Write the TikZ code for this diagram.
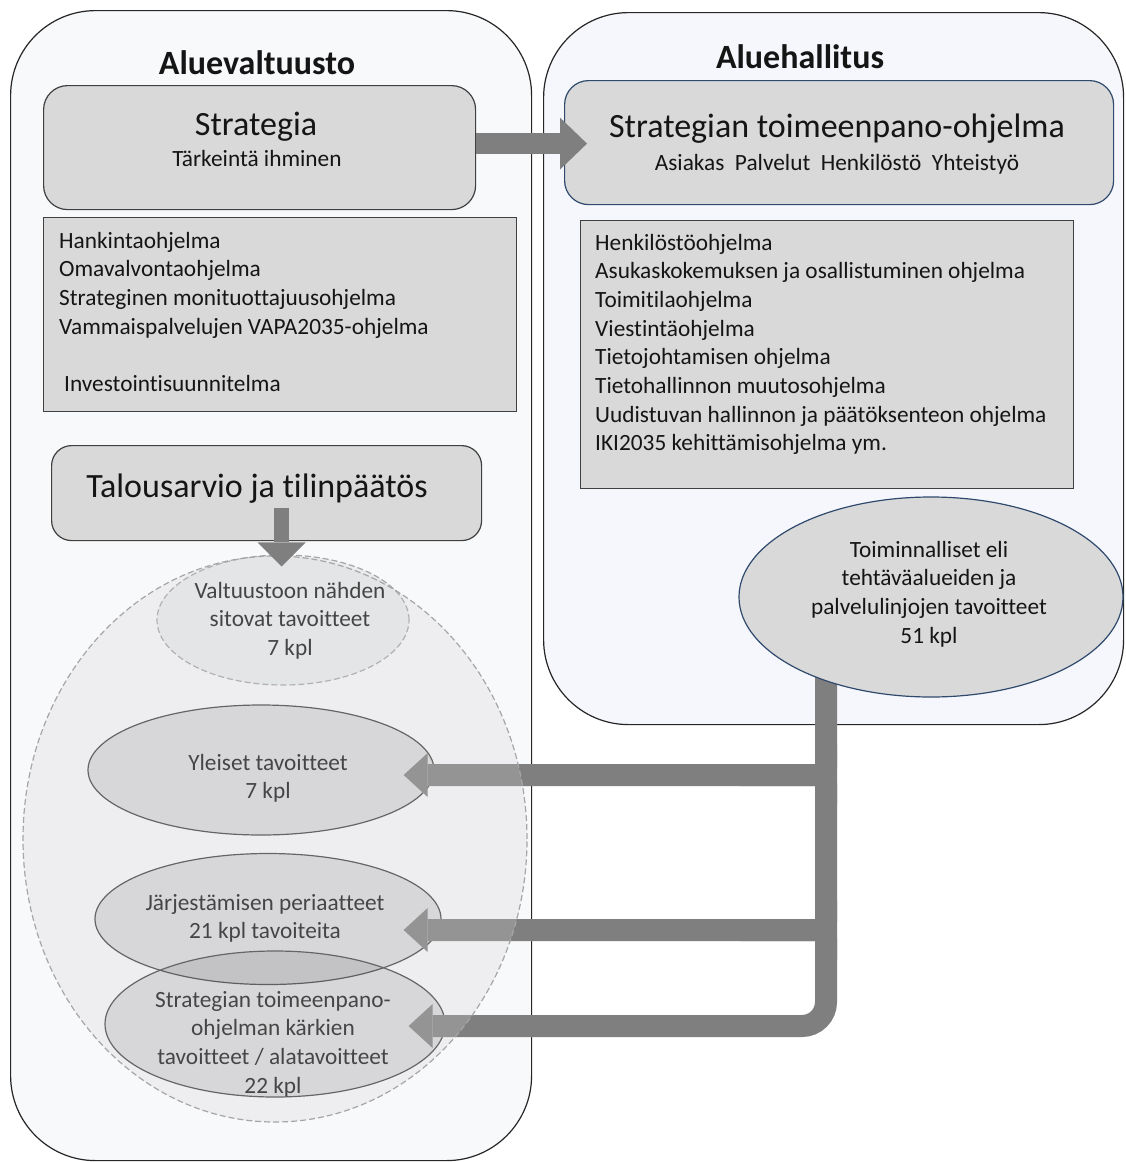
\documentclass[tikz,border=0pt]{standalone}
\usepackage{fontspec}
\setmainfont{Carlito}[Ligatures=NoCommon]
\usetikzlibrary{shapes.geometric,arrows.meta}
\definecolor{panelL}{HTML}{F8F9FB}
\definecolor{panelR}{HTML}{F5F7FC}
\definecolor{boxgray}{HTML}{D9D9D9}
\definecolor{boxline}{HTML}{404040}
\definecolor{navy}{HTML}{2F4A6D}
\definecolor{conngray}{HTML}{7F7F7F}
\definecolor{dashgray}{HTML}{A6A6A6}
\definecolor{veil}{HTML}{D2D2D2}
\definecolor{inkc}{HTML}{151515}
\newcommand{\bigtxt}{\fontsize{34}{40}\selectfont}
\newcommand{\smalltxt}{\fontsize{23.3}{28.7}\selectfont}
\newcommand{\stack}[2]{\begin{tabular}[t]{@{}#1@{}}#2\end{tabular}}
\begin{document}
\begin{tikzpicture}[x=1pt,y=-1pt,
  panel/.style={draw=black!85, line width=1.2pt, rounded corners=85pt, inner sep=0pt, anchor=north west},
  gbox/.style={draw=boxline, fill=boxgray, line width=1.2pt, inner sep=0pt, anchor=north west},
  oval/.style={ellipse, draw=boxline, line width=1.2pt, fill=black, fill opacity=0.12, draw opacity=1, inner sep=0pt},
  dashoval/.style={ellipse, draw=dashgray, line width=1.2pt, dash pattern=on 6pt off 3pt, inner sep=0pt},
  txt/.style={inner sep=0pt, text=inkc},
  conn/.style={draw=conngray, line width=22pt, -{Triangle[width=44pt,length=24pt,line width=0pt]}},
  connplain/.style={draw=conngray, line width=22pt},
  fatarrow/.style={draw=conngray, line width=21pt, -{Triangle[width=52pt,length=27pt,line width=0pt]}},
  downarrow/.style={draw=conngray, line width=15pt, -{Triangle[width=48pt,length=24pt,line width=0pt]}}
]
\useasboundingbox (0,0) rectangle (1125,1162);
\fill[white] (0,0) rectangle (1125,1162);

% panels
\node[panel, fill=panelL, minimum width=521pt, minimum height=1150pt] (lp) at (10,10) {};
\node[panel, fill=panelR, minimum width=580pt, minimum height=712pt] (rp) at (543,12) {};

\node[txt, anchor=base, font=\bigtxt\bfseries] (lhead) at (257,74) {Aluevaltuusto};
\node[txt, anchor=base, font=\bigtxt\bfseries] (rhead) at (800,68) {Aluehallitus};

% left boxes
\node[gbox, rounded corners=24pt, minimum width=432pt, minimum height=124pt] (strat) at (43,85) {};
\node[txt, anchor=base, font=\bigtxt] (strattitle) at (256,135) {Strategia};
\node[txt, anchor=base, font=\smalltxt] (stratsub) at (257,166) {Tärkeintä ihminen};

\node[gbox, minimum width=473pt, minimum height=194pt] (lbox) at (43,217) {};
\node[txt, anchor=base west, font=\smalltxt] (llist) at (59,248) {\stack{l}{Hankintaohjelma\\Omavalvontaohjelma\\Strateginen monituottajuusohjelma\\Vammaispalvelujen VAPA2035-ohjelma\\ \\\hspace{5pt}Investointisuunnitelma}};

\node[gbox, rounded corners=20pt, minimum width=430pt, minimum height=95pt] (tal) at (51,445) {};
\node[txt, anchor=base, font=\bigtxt] (taltext) at (257,497) {Talousarvio ja tilinpäätös};

% right boxes
\node[gbox, draw=navy, rounded corners=24pt, minimum width=549pt, minimum height=124pt] (impl) at (564,80) {};
\node[txt, anchor=base, font=\bigtxt] (impltitle) at (837,137) {Strategian toimeenpano-ohjelma};
\node[txt, anchor=base, font=\smalltxt] (implsub) at (837,170) {Asiakas\ \ Palvelut\ \ Henkilöstö\ \ Yhteistyö};

\node[gbox, minimum width=493pt, minimum height=268pt] (rbox) at (580,220) {};
\node[txt, anchor=base west, font=\smalltxt] (rlist) at (595,250) {\stack{l}{Henkilöstöohjelma\\Asukaskokemuksen ja osallistuminen ohjelma\\Toimitilaohjelma\\Viestintäohjelma\\Tietojohtamisen ohjelma\\Tietohallinnon muutosohjelma\\Uudistuvan hallinnon ja päätöksenteon ohjelma\\IKI2035 kehittämisohjelma ym.}};

% left ovals
\node[dashoval, fill=black, fill opacity=0.05, draw opacity=1, minimum width=252pt, minimum height=130pt] (sit) at (283,620) {};
\node[txt, anchor=base, font=\smalltxt] (sittext) at (290,598) {\stack{c}{Valtuustoon nähden\\sitovat tavoitteet\\7 kpl}};

\node[oval, minimum width=346pt, minimum height=130pt] (yl) at (261,770) {};
\node[txt, anchor=base, font=\smalltxt] (yltext) at (268,770) {\stack{c}{Yleiset tavoitteet\\7 kpl}};

\node[oval, minimum width=346pt, minimum height=131pt] (jr) at (268,919) {};
\node[txt, anchor=base, font=\smalltxt] (jrtext) at (265,910) {\stack{c}{Järjestämisen periaatteet\\21 kpl tavoiteita}};

\node[oval, minimum width=340pt, minimum height=146pt] (st) at (275,1024) {};
\node[txt, anchor=base, font=\smalltxt] (sttext) at (273,1007) {\stack{c}{Strategian toimeenpano-\\ohjelman kärkien\\tavoitteet / alatavoitteet\\22 kpl}};

% connectors from the right oval
\coordinate (m1) at (740,775);
\coordinate (m2) at (740,930);
\coordinate (j1a) at (826,745);
\coordinate (j1b) at (826,805);
\coordinate (j2a) at (826,900);
\coordinate (j2b) at (826,960);
\draw[conn, rounded corners=24pt] (826,677) |- ([xshift=-37pt,yshift=-2pt]st.east);
\draw[conn, rounded corners=9pt] (j1a) |- ([xshift=-31pt,yshift=-5pt]yl.east);
\draw[connplain, rounded corners=9pt] (j1b) |- (m1);
\draw[conn, rounded corners=9pt] (j2a) |- ([xshift=-38pt,yshift=-11pt]jr.east);
\draw[connplain, rounded corners=9pt] (j2b) |- (m2);

% right oval
\node[ellipse, draw=navy, line width=1.2pt, fill=boxgray, inner sep=0pt, minimum width=384pt, minimum height=200pt] (tr) at (931,597) {};
\node[txt, anchor=base, font=\smalltxt] (trtext) at (929,557) {\stack{c}{Toiminnalliset eli\\tehtäväalueiden ja\\palvelulinjojen tavoitteet\\51 kpl}};

% veil over the goals
\node[dashoval, fill=veil, fill opacity=0.26, draw opacity=1, minimum width=504pt, minimum height=566pt] (big) at (275,839) {};

% arrows
\draw[fatarrow, shorten >=-23pt] ([yshift=4pt]strat.east) -- ([yshift=4pt]strat.east -| impl.west);
\draw[downarrow] ([xshift=15pt,yshift=33pt]tal.south) -- ([xshift=15pt,yshift=-11pt]tal.south |- big.north);
\end{tikzpicture}
\end{document}
